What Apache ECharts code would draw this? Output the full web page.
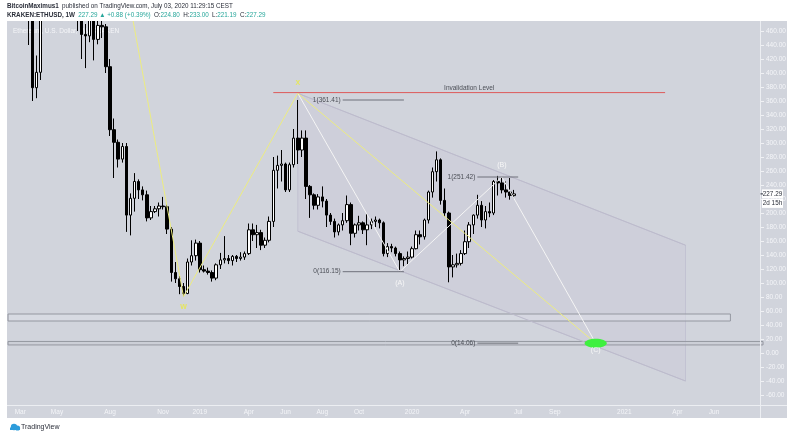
<!DOCTYPE html>
<html><head><meta charset="utf-8">
<script src="https://cdn.jsdelivr.net/npm/echarts@6/dist/echarts.min.js"></script>
<style>html,body{margin:0;padding:0;background:#fff;}#c{width:795px;height:436px;}</style>
</head><body><div id="c"></div>
<script>
// ---- weekly categories (Monday bars) ----
const firstWeek = [2018, 1, 12];
const weekCount = 185;
const categories = [];
for (let i = 0; i < weekCount; i++) {
  const d = new Date(Date.UTC(firstWeek[0], firstWeek[1], firstWeek[2] + 7 * i));
  categories.push(d.toISOString().slice(0, 10));
}
const tickLabels = {
  '2018-03-05':'Mar','2018-05-07':'May','2018-08-06':'Aug','2018-11-05':'Nov',
  '2019-01-07':'2019','2019-04-01':'Apr','2019-06-03':'Jun','2019-08-05':'Aug','2019-10-07':'Oct',
  '2020-01-06':'2020','2020-04-06':'Apr','2020-07-06':'Jul','2020-09-07':'Sep',
  '2021-01-04':'2021','2021-04-05':'Apr','2021-06-07':'Jun'
};
const priceTicks = {min: -80, max: 480, interval: 20};

// ---- OHLC (KRAKEN:ETHUSD, 1W) ----
const opens = [
  860,940,868,860,730,540,525,379,401,502,
  620,670,790,680,690,575,600,597,497,455,
  453,478,448,468,466,409,319,301,277,295,
  197,221,245,233,226,193,202,206,210,209,
  177,115,106,95,85,130,139,157,119,117,
  115,107,126,133,135,132,138,135,137,142,
  176,169,172,154,161,188,261,268,270,233,
  269,307,290,307,238,226,211,223,217,197,
  188,173,183,189,212,171,183,186,176,183,
  188,190,186,142,152,150,142,133,135,137,
  149,169,166,190,230,259,276,218,200,123,
  126,128,142,159,183,197,211,190,202,200,
  245,243,233,230,224.80];
const closes = [
  940,868,860,730,540,525,379,401,502,620,
  670,790,680,690,575,600,597,497,455,453,
  478,448,468,466,409,319,301,277,295,197,
  221,245,233,226,193,202,206,210,209,177,
  115,106,95,85,130,139,157,119,117,115,
  107,126,133,135,132,138,135,137,142,176,
  169,172,154,161,188,261,268,270,233,269,
  307,290,307,238,226,211,223,217,197,188,
  173,183,189,212,171,183,186,176,183,188,
  190,186,142,152,150,142,133,135,137,149,
  169,166,190,230,259,276,218,200,123,126,
  128,142,159,183,197,211,190,202,200,245,
  243,233,230,225,227.29];
const highs = [
  975,960,895,870,730,580,535,425,530,630,
  710,830,800,740,700,630,630,600,540,470,
  500,490,505,485,470,420,335,305,300,300,
  228,257,248,238,232,210,210,215,223,212,
  180,130,110,100,135,161,162,160,125,122,
  118,128,143,167,140,140,140,144,145,185,
  185,183,176,165,195,280,282,290,272,272,
  320,361.41,318,318,240,228,227,238,220,200,
  192,185,200,225,215,185,196,188,200,192,
  195,192,188,157,156,152,145,138,145,152,
  175,175,192,232,265,288,278,235,202,140,
  142,147,175,187,198,226,217,210,215,247,
  253,250,245,250,233.00];
const lows = [
  840,800,840,690,480,440,360,364,390,500,
  600,660,650,660,555,515,570,460,420,407,
  444,418,441,450,400,310,250,265,272,173,
  168,202,220,218,188,190,200,195,205,170,
  102,100,84,81,84,125,132,115,115,112,
  102,104,120,128,127,125,130,132,133,140,
  160,150,147,150,158,180,235,245,230,230,
  265,270,280,220,193,205,205,208,180,183,
  165,168,175,186,154,165,175,170,154,177,
  180,178,138,137,144,138,116.15,124,126,135,
  148,155,162,185,222,245,212,195,101,108,
  122,125,140,150,170,192,180,178,194,197,
  225,228,222,219,221.19];
const lastPrice = 227.29;

// ---- drawings: [weekIndex, price] ----
const yellowWave = [[30,495],[43,80.5],[71,371],[144,14.06]];
const abcPath = [[71,371],[96,116.15],[121,251.42],[144,14.06]];
const channelUpper = [[71,371],[166,154]];
const channelLower = [[71,174],[166,-40]];
const invalidation = [[65,372],[161,372]];
const fibLevels = [
  {from:82, to:97, price:361.41, label:'1(361.41)'},
  {from:82, to:97, price:116.15, label:'0(116.15)'},
  {from:115, to:125, price:251.42, label:'1(251.42)'},
  {from:115, to:125, price:14.06, label:'0(14.06)'}
];
const bandUpper = {from:-0.5, to:177, low:45.7, high:55.7};
const bandLower = {from:-0.5, to:184.5, low:11.5, high:16.5};
const waveLabels = [
  {i:43, p:65, text:'W', color:'#e6e65c'},
  {i:71, p:386, text:'X', color:'#e6e65c'},
  {i:96, p:100, text:'(A)', color:'#f7f7f7'},
  {i:121, p:268, text:'(B)', color:'#f7f7f7'},
  {i:144, p:4, text:'(C)', color:'#f7f7f7'}
];
const targetPoint = [144, 14.06];

const FONT = '"Liberation Sans", Arial, sans-serif';
const candleData = opens.map((o, i) => [o, closes[i], lows[i], highs[i]]);

function lineSeries(data, color, width, z, opacity) {
  return {type:'line', data, symbol:'none', silent:true, animation:false, z,
    lineStyle:{color, width, opacity: opacity == null ? 1 : opacity}};
}

const fibSeries = fibLevels.map(f => lineSeries([[f.from, f.price],[f.to, f.price]], '#6e717a', 1, 7));

const chart = echarts.init(document.getElementById('c'), null, {renderer:'canvas'});
chart.setOption({
  animation:false,
  backgroundColor:'#ffffff',
  grid:{left:6, width:755, top:17, height:392, containLabel:false},
  xAxis:{type:'category', data:categories, boundaryGap:true,
    axisLine:{show:false}, axisTick:{show:false}, splitLine:{show:false},
    axisLabel:{interval:(idx, val) => tickLabels[val] !== undefined,
      formatter:v => tickLabels[v] || '', color:'#f4f5f8', fontSize:6.5, fontFamily:FONT, margin:0}},
  yAxis:{type:'value', position:'right', min:priceTicks.min, max:priceTicks.max, interval:priceTicks.interval,
    scale:false, splitLine:{show:false}, axisLine:{show:false},
    axisTick:{show:true, length:3, lineStyle:{color:'#f0f1f4'}},
    axisLabel:{showMinLabel:false, showMaxLabel:false, formatter:v => v.toFixed(2),
      color:'#f4f5f8', fontSize:6.5, fontFamily:FONT, margin:5}},
  series:[
    {type:'custom', silent:true, z:1, data:[[0,0]], encode:{x:0,y:1},
      renderItem:(params, api) => {
        const pts = [channelUpper[0], channelUpper[1], channelLower[1], channelLower[0]].map(p => api.coord(p));
        const band = (b) => {
          const a = api.coord([b.from, b.high]), c = api.coord([b.to, b.low]);
          return {x:a[0], y:a[1], width:c[0]-a[0], height:c[1]-a[1]};
        };
        return {type:'group', children:[
          {type:'polygon', shape:{points:pts}, style:{fill:'rgba(140,125,180,0.045)', stroke:'rgba(170,165,195,0.35)', lineWidth:1}},
          {type:'rect', shape:band(bandUpper), style:{fill:'rgba(222,224,231,0.5)', stroke:'#9497a0', lineWidth:1}},
          {type:'rect', shape:band(bandLower), style:{fill:'rgba(200,203,212,0.6)', stroke:'#9497a0', lineWidth:1}}
        ]};
      }},
    {type:'candlestick', data:candleData, barWidth:3, z:5, silent:true,
      itemStyle:{color:'#ffffff', color0:'#000000', borderColor:'#000000', borderColor0:'#000000', borderWidth:1}},
    lineSeries(channelUpper, '#bdbbcc', 1, 6),
    lineSeries(channelLower, '#bdbbcc', 1, 6),
    lineSeries(abcPath, '#f5f5f5', 1, 7),
    lineSeries(yellowWave, '#ecec80', 1, 8),
    lineSeries(invalidation, '#dd5a5a', 1, 8),
    ...fibSeries,
    {type:'custom', silent:true, z:9, data:[[0,0]], encode:{x:0,y:1},
      renderItem:(params, api) => {
        const children = [];
        const t = api.coord(targetPoint);
        children.push({type:'ellipse', shape:{cx:t[0], cy:t[1], rx:11, ry:4.5}, style:{fill:'#3ff03f'}});
        waveLabels.forEach(w => {
          const c = api.coord([w.i, w.p]);
          children.push({type:'text', x:c[0], y:c[1], style:{text:w.text, fill:w.color, fontSize:7,
            fontWeight:w.text.length === 1 ? 'bold' : 'normal', fontFamily:FONT, align:'center', verticalAlign:'middle'}});
        });
        fibLevels.forEach(f => {
          const c = api.coord([f.from, f.price]);
          children.push({type:'text', x:c[0]-2, y:c[1], style:{text:f.label, fill:'#4b4e56', fontSize:6.5,
            fontFamily:FONT, align:'right', verticalAlign:'middle'}});
        });
        const r0 = api.coord(invalidation[0]), r1 = api.coord(invalidation[1]);
        children.push({type:'text', x:(r0[0]+r1[0])/2, y:r0[1]-4, style:{text:'Invalidation Level', fill:'#4b4e56',
          fontSize:6.5, fontFamily:FONT, align:'center', verticalAlign:'middle'}});
        return {type:'group', children};
      }}
  ],
  graphic:[
    {type:'rect', id:'bg', z:-100, shape:{x:7, y:21, width:780, height:397}, style:{fill:'#d1d4dc'}},
    {type:'text', id:'legend', z:1, x:13, y:31, style:{text:'Ethereum, U.S. Dollar, 1W, KRAKEN', fill:'#f4f5f8', fontSize:6.5, fontFamily:FONT, verticalAlign:'middle'}},
    {type:'line', id:'hline', z:50, shape:{x1:7, y1:405.5, x2:787, y2:405.5}, style:{stroke:'#eceef2', lineWidth:1}},
    {type:'line', id:'vline', z:50, shape:{x1:760.5, y1:21, x2:760.5, y2:418}, style:{stroke:'#eceef2', lineWidth:1}},
    {type:'rect', id:'hdr', z:100, shape:{x:0, y:0, width:795, height:21}, style:{fill:'#ffffff'}},
    {type:'text', id:'h1', z:101, x:7, y:6, style:{
      text:'{b|BitcoinMaximus1} {n|published on TradingView.com, July 03, 2020 11:29:15 CEST}',
      verticalAlign:'middle', rich:{b:{fontWeight:'bold', fontSize:6.3, fill:'#2a2e39', fontFamily:FONT},
        n:{fontSize:6.3, fill:'#2a2e39', fontFamily:FONT}}}},
    {type:'text', id:'h2', z:101, x:7, y:15.5, style:{
      text:'{b|KRAKEN:ETHUSD, 1W} {g|227.29 ▲ +0.88 (+0.39%)} {n|O:}{g|224.80} {n|H:}{g|233.00} {n|L:}{g|221.19} {n|C:}{g|227.29}',
      verticalAlign:'middle', rich:{b:{fontWeight:'bold', fontSize:6.3, fill:'#2a2e39', fontFamily:FONT},
        n:{fontSize:6.3, fill:'#2a2e39', fontFamily:FONT}, g:{fontSize:6.3, fill:'#26a69a', fontFamily:FONT}}}},
    {type:'text', id:'logo', z:101, x:21, y:427, style:{text:'TradingView', fill:'#2a2e39', fontSize:7, fontFamily:FONT, verticalAlign:'middle'}},
    {type:'circle', id:'logo1', z:101, shape:{cx:14, cy:427, r:3.2}, style:{fill:'#2d9cdb'}},
    {type:'circle', id:'logo2', z:101, shape:{cx:17.5, cy:428, r:2.6}, style:{fill:'#2d9cdb'}},
    {type:'rect', id:'logo3', z:101, shape:{x:10, y:427.5, width:10, height:2.5}, style:{fill:'#2d9cdb'}}
  ]
});

// last-price tag on the price scale
const tagY = chart.convertToPixel({yAxisIndex:0}, lastPrice);
chart.setOption({graphic:[
  {type:'rect', id:'tag1', z:60, shape:{x:762, y:tagY-4.5, width:21, height:9}, style:{fill:'#ffffff'}},
  {type:'text', id:'tag1t', z:61, x:772.5, y:tagY, style:{text:lastPrice.toFixed(2), fill:'#2a2e39', fontSize:6.3, fontFamily:FONT, align:'center', verticalAlign:'middle'}},
  {type:'rect', id:'tag2', z:60, shape:{x:762, y:tagY+5, width:21, height:9}, style:{fill:'#ffffff'}},
  {type:'text', id:'tag2t', z:61, x:772.5, y:tagY+9.5, style:{text:'2d 15h', fill:'#2a2e39', fontSize:6.3, fontFamily:FONT, align:'center', verticalAlign:'middle'}},
  {type:'line', id:'tagTick', z:61, shape:{x1:760.5, y1:tagY, x2:763, y2:tagY}, style:{stroke:'#2a2e39', lineWidth:1}}
]});
</script>
</body></html>
